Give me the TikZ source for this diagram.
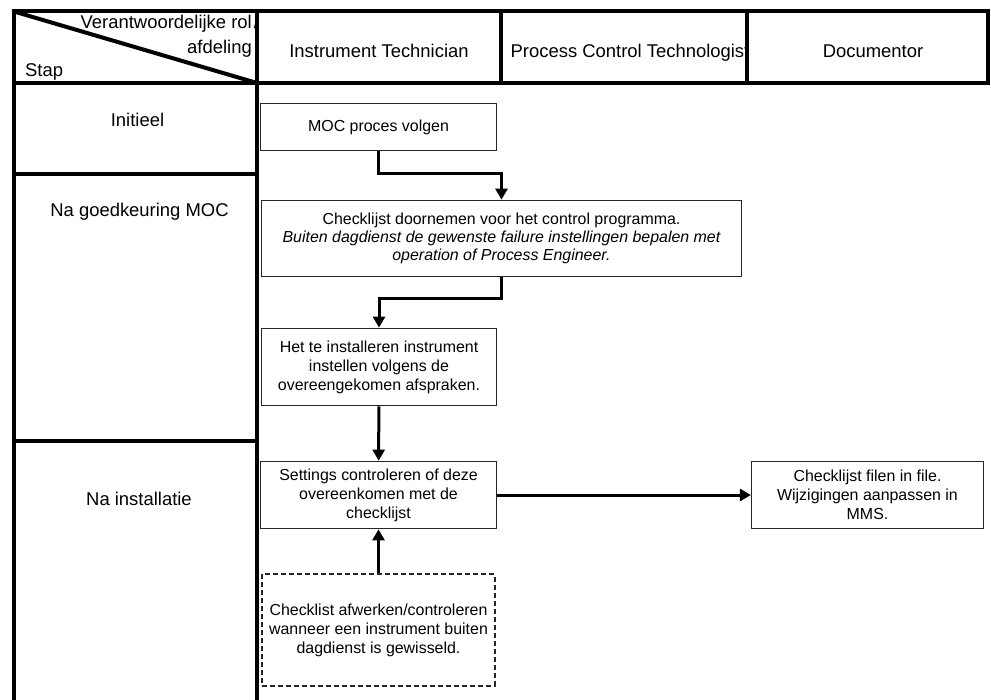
\documentclass[tikz,border=0pt]{standalone}
\usepackage{fontspec}
\setmainfont{Liberation Sans}
\usetikzlibrary{arrows.meta}
\begin{document}
\begin{tikzpicture}[x=1bp,y=-1bp]
\tikzstyle{every node}=[inner sep=0pt,font=\fontsize{16}{19}\selectfont]
\tikzstyle{kop}=[font=\fontsize{18.5}{25}\selectfont]
\tikzstyle{stapbox}=[draw=black!85,line width=1bp,fill=white,align=center]
\tikzstyle{grid}=[line width=4bp]
\tikzstyle{pijl}=[line width=3bp,-{Triangle[length=11bp,width=12bp]}]
\useasboundingbox (0,0) rectangle (991,700);
\fill[white] (0,0) rectangle (991,700);
\node[kop,anchor=north east,align=right](rol) at (252,15) {Verantwoordelijke rol\rlap{\kern2bp/}\\afdeling};
\node[kop,anchor=base west](stap) at (25,77) {Stap};
\node[kop,anchor=base](it) at (379,58) {Instrument Technician};
\node[kop,anchor=base](pct) at (630,58) {Process Control Technologist};
\node[kop,anchor=base](doc) at (873,58) {Documentor};
\node[kop,anchor=base](init) at (137.5,127) {Initieel};
\node[kop,anchor=base](goedk) at (139.5,216) {Na goedkeuring MOC};
\node[kop,anchor=base](inst) at (139,505) {Na installatie};
\draw[grid] (14,700) -- (14,11.5) -- (988,11.5) -- (988,83) -- (14,83);
\draw[grid] (257,11.5) -- (257,700);
\foreach \x in {501,747} \draw[grid] (\x,11.5) -- (\x,83);
\draw[grid] (14,174) -- (257,174);
\draw[grid] (14,441) -- (257,441);
\draw[grid] (14,11.5) -- (257,83);
\node[stapbox,minimum width=237,minimum height=48](moc) at (378.5,127) {MOC proces volgen};
\node[stapbox,minimum width=481,minimum height=77,font=\fontsize{16}{18}\selectfont](chk) at (501.5,238.5) {Checklijst doornemen voor het control programma.\\\itshape Buiten dagdienst de gewenste failure instellingen bepalen met\\\itshape operation of Process Engineer.};
\node[stapbox,minimum width=236,minimum height=78](instel) at (379,367) {Het te installeren instrument\\instellen volgens de\\overeengekomen afspraken.};
\node[stapbox,minimum width=237,minimum height=68](set) at (378.5,495) {Settings controleren of deze\\overeenkomen met de\\checklijst};
\node[stapbox,minimum width=233,minimum height=112,line width=2bp,dash pattern=on 5bp off 3bp](buiten) at (378.5,630) {Checklist afwerken/controleren\\wanneer een instrument buiten\\dagdienst is gewisseld.};
\node[stapbox,minimum width=233,minimum height=68](file) at (867.5,495) {Checklijst filen in file.\\Wijzigingen aanpassen in\\MMS.};
\draw[pijl] (moc.south) -- ++(0,22) -| (chk.north);
\draw[pijl] (chk.south) -- ++(0,21) -| (instel.north);
\draw[pijl] (instel) -- (set);
\draw[pijl] (buiten) -- (set);
\draw[pijl] (set) -- (file);
\end{tikzpicture}
\end{document}
